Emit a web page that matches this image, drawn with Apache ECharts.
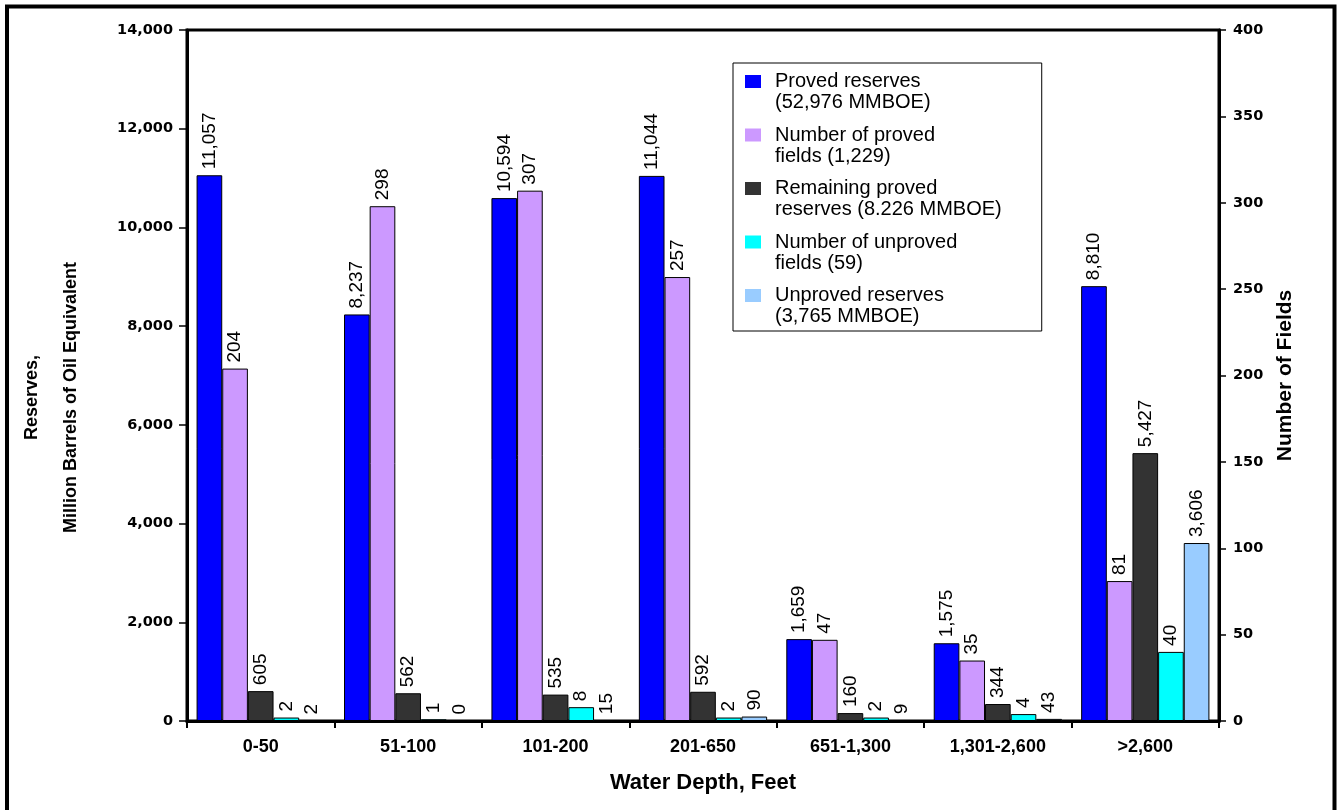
<!DOCTYPE html>
<html><head><meta charset="utf-8">
<script src="https://cdn.jsdelivr.net/npm/echarts@6/dist/echarts.min.js"></script>
<style>html,body{margin:0;padding:0;background:#fff}#c{width:1341px;height:810px}</style>
</head><body><div id="c"></div>
<script>
const categories = ['0-50', '51-100', '101-200', '201-650', '651-1,300', '1,301-2,600', '>2,600'];
const provedReserves = [11057, 8237, 10594, 11044, 1659, 1575, 8810];
const provedFields = [204, 298, 307, 257, 47, 35, 81];
const remainingReserves = [605, 562, 535, 592, 160, 344, 5427];
const unprovedFields = [2, 1, 8, 2, 2, 4, 40];
const unprovedReserves = [2, 0, 15, 90, 9, 43, 3606];
const leftAxisRange = [0, 14000, 2000];
const rightAxisRange = [0, 400, 50];

const fmt = v => Number(v).toLocaleString('en-US');
const iconPath = 'path://M0,0 M25,42 M0,4 L16,4 L16,17 L0,17 Z';

function barSeries(name, data, color, axis) {
  return {
    name: name, type: 'bar', data: data, yAxisIndex: axis,
    barGap: '0%', barCategoryGap: '13%',
    itemStyle: { color: color, borderColor: '#000', borderWidth: 1 },
    label: {
      show: true, position: 'top', rotate: 90, align: 'left', verticalAlign: 'middle',
      distance: 6, fontFamily: 'Liberation Sans, Arial, sans-serif', fontSize: 19, color: '#000',
      formatter: p => fmt(p.value)
    }
  };
}

const chart = echarts.init(document.getElementById('c'));
chart.setOption({
  animation: false,
  backgroundColor: '#fff',
  graphic: [{
    type: 'rect', shape: { x: 7, y: 6.5, width: 1327.5, height: 830 },
    style: { fill: 'none', stroke: '#000', lineWidth: 4 }, z: 100
  }],
  grid: { left: 187, right: 122, top: 30, bottom: 89, show: true, borderColor: '#000', borderWidth: 3, backgroundColor: 'transparent' },
  legend: {
    orient: 'vertical', left: 733, top: 63, width: 280,
    padding: [8, 40, 4, 12], itemGap: 11.5, itemWidth: 25, itemHeight: 42,
    backgroundColor: '#fff', borderColor: '#000', borderWidth: 1,
    icon: iconPath,
    itemStyle: { borderWidth: 0 },
    textStyle: { fontFamily: 'Liberation Sans, Arial, sans-serif', fontSize: 20, lineHeight: 21, color: '#000' },
    selectedMode: false
  },
  xAxis: {
    type: 'category', data: categories,
    name: 'Water Depth, Feet', nameLocation: 'middle', nameGap: 51,
    nameTextStyle: { fontFamily: 'Liberation Sans, Arial, sans-serif', fontWeight: 'bold', fontSize: 22, color: '#000' },
    axisLine: { lineStyle: { color: '#000', width: 3 } },
    axisTick: { show: true, length: 7, lineStyle: { color: '#000', width: 2 } },
    axisLabel: { margin: 17, fontFamily: 'Liberation Sans Narrow, Liberation Sans, Arial, sans-serif', fontWeight: 'bold', fontSize: 18, color: '#000' }
  },
  yAxis: [{
    type: 'value', min: leftAxisRange[0], max: leftAxisRange[1], interval: leftAxisRange[2], position: 'left',
    name: 'Reserves,\nMillion Barrels of Oil Equivalent', nameLocation: 'middle', nameRotate: 90, nameGap: 96,
    nameTextStyle: { fontFamily: 'Liberation Sans, Arial, sans-serif', fontWeight: 'bold', fontSize: 18, lineHeight: 39, color: '#000', padding: [0, 44, 0, 0] },
    axisLine: { show: true, lineStyle: { color: '#000', width: 3 } },
    axisTick: { show: true, length: 8, lineStyle: { color: '#000', width: 1.5 } },
    splitLine: { show: false },
    axisLabel: { margin: 14, fontFamily: 'DejaVu Sans, sans-serif', fontWeight: 'bold', fontSize: 14.5, color: '#000', formatter: v => fmt(v) }
  }, {
    type: 'value', min: rightAxisRange[0], max: rightAxisRange[1], interval: rightAxisRange[2], position: 'right',
    name: 'Number of Fields', nameLocation: 'middle', nameRotate: 90, nameGap: 56,
    nameTextStyle: { fontFamily: 'Liberation Sans, Arial, sans-serif', fontWeight: 'bold', fontSize: 21, color: '#000' },
    axisLine: { show: true, lineStyle: { color: '#000', width: 3 } },
    axisTick: { show: true, length: 7, lineStyle: { color: '#000', width: 1.5 } },
    splitLine: { show: false },
    axisLabel: { margin: 14, fontFamily: 'DejaVu Sans, sans-serif', fontWeight: 'bold', fontSize: 14.5, color: '#000' }
  }],
  series: [
    barSeries('Proved reserves\n(52,976 MMBOE)', provedReserves, '#0000FF', 0),
    barSeries('Number of proved\nfields (1,229)', provedFields, '#CC99FF', 1),
    barSeries('Remaining proved\nreserves (8.226 MMBOE)', remainingReserves, '#333333', 0),
    barSeries('Number of unproved\nfields (59)', unprovedFields, '#00FFFF', 1),
    barSeries('Unproved reserves\n(3,765 MMBOE)', unprovedReserves, '#99CCFF', 0)
  ]
});
</script></body></html>
